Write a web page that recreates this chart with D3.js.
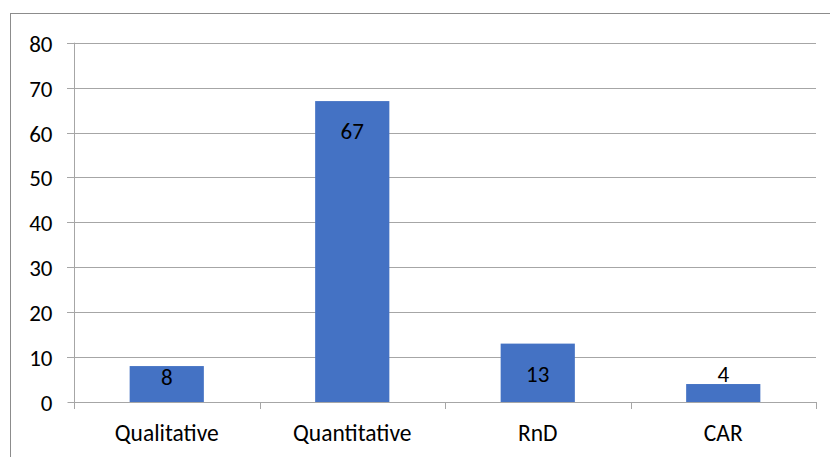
<!DOCTYPE html>
<html><head><meta charset="utf-8">
<script src="https://cdn.jsdelivr.net/npm/d3@7"></script>
<style>body{margin:0;background:#fff}svg{display:block}text{font-family:Carlito,Calibri,Lato,"Liberation Sans",sans-serif;fill:#000}</style>
</head><body>
<svg id="c" width="830" height="457"></svg>
<script>
const categories = ["Qualitative","Quantitative","RnD","CAR"];
const values = [8,67,13,4];
const yTicks = [0,10,20,30,40,50,60,70,80];

const svg = d3.select("#c");
const m = {l:74, r:816, t:42.7, b:402};
svg.append("rect").attr("x",10.5).attr("y",13.5).attr("width",840).attr("height",460)
  .attr("fill","none").attr("stroke","#8c8c8c").attr("stroke-width",1);

const x = d3.scaleBand().domain(categories).range([m.l,m.r]).paddingInner(0.6).paddingOuter(0.3);
const y = d3.scaleLinear().domain([0,80]).range([m.b,m.t]);

// gridlines
svg.append("g").selectAll("line").data(yTicks.filter(d=>d>0)).join("line")
  .attr("x1",m.l-7).attr("x2",m.r).attr("y1",d=>Math.round(y(d))+0.5).attr("y2",d=>Math.round(y(d))+0.5)
  .attr("stroke","#a6a6a6").attr("stroke-width",1);

// y axis
const ya = svg.append("g").attr("transform",`translate(${m.l+0.5},0)`)
  .call(d3.axisLeft(y).tickValues(yTicks).tickSize(7).tickPadding(15));
ya.select(".domain").attr("stroke","#a6a6a6").attr("d",`M0,${m.t}V${m.b+7}`);
ya.selectAll(".tick line").attr("stroke","#a6a6a6");
ya.selectAll(".tick").attr("transform",d=>`translate(0,${Math.round(y(d))+0.5})`);
ya.selectAll("text").style("font-size","23px").attr("fill","#000").attr("dy","0.35em");

// bars
svg.append("g").selectAll("rect").data(values).join("rect")
  .attr("x",(d,i)=>x(categories[i])).attr("width",x.bandwidth())
  .attr("y",d=>y(d)).attr("height",d=>y(0)-y(d)).attr("fill","#4472C4");

// x axis
const boundaries = d3.range(categories.length+1).map(i=>m.l + i*x.step());
const xa = svg.append("g");
xa.append("line").attr("x1",m.l).attr("x2",m.r).attr("y1",m.b+0.5).attr("y2",m.b+0.5).attr("stroke","#a6a6a6");
xa.selectAll("line.t").data(boundaries).join("line").attr("class","t")
  .attr("x1",d=>Math.round(d)+0.5).attr("x2",d=>Math.round(d)+0.5).attr("y1",m.b).attr("y2",m.b+7).attr("stroke","#a6a6a6");
xa.selectAll("text").data(categories).join("text")
  .attr("x",d=>x(d)+x.bandwidth()/2).attr("y",441).attr("text-anchor","middle")
  .style("font-size","23.5px").text(d=>d);

// data labels
svg.append("g").selectAll("text").data(values).join("text")
  .attr("x",(d,i)=>x(categories[i])+x.bandwidth()/2)
  .attr("y",d=>{const h=y(0)-y(d); if(h>=30) return y(d)+Math.min(38,h-17); return y(d)-2;})
  .attr("text-anchor","middle").style("font-size","23px").text(d=>d);
</script>
</body></html>
